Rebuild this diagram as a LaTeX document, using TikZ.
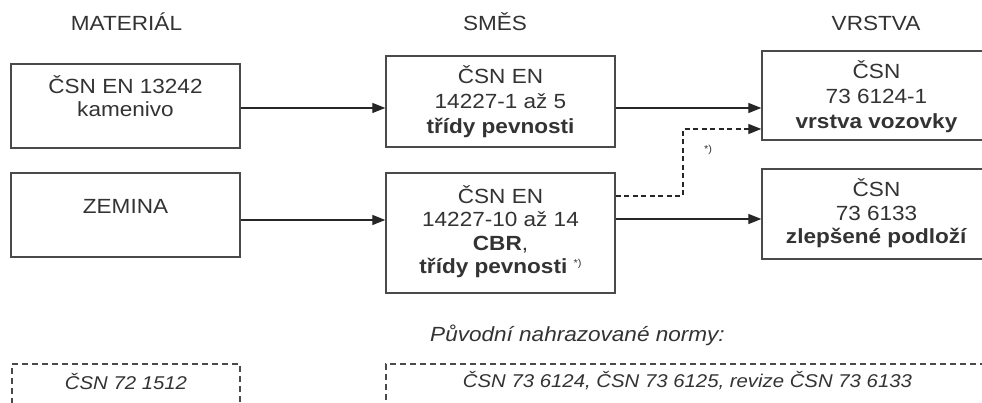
\documentclass[tikz,border=0pt]{standalone}
\usepackage{fontspec}
\setmainfont{Liberation Sans}[FakeStretch=1.1]
\usetikzlibrary{arrows.meta}
\definecolor{txt}{HTML}{333333}
\definecolor{ln}{HTML}{4A4A4A}
\newcommand\fl{\rule{0pt}{20pt}}
\begin{document}
\begin{tikzpicture}[x=1pt,y=-1pt,
  box/.style={draw=ln, line width=1.4pt, inner sep=0pt, minimum width=229pt, minimum height=#1},
  box/.default=84pt,
  dbox/.style={draw=ln, line width=1.4pt, dash pattern=on 6pt off 4pt, inner sep=0pt},
  tx/.style={anchor=north, inner sep=0pt, align=center, text=txt, font=\fontsize{20.5}{23.5}\selectfont},
  txw/.style={tx, font=\fontsize{20.5}{25}\selectfont},
  hd/.style={anchor=base, inner sep=0pt, text=txt, font=\fontsize{20.5}{22}\selectfont},
  itx/.style={anchor=base, inner sep=0pt, text=txt, font=\itshape\fontsize{18.5}{20}\selectfont},
  arr/.style={-{Triangle[length=13pt,width=10pt]}, line width=1.3pt, draw=black!85},
  darr/.style={arr, dash pattern=on 5pt off 3.5pt}]
\useasboundingbox (0,0) rectangle (982,403);
\fill[white] (0,0) rectangle (982,403);

% headers
\node[hd] (h1) at (126.5,31) {MATERIÁL};
\node[hd] (h2) at (495,31) {SMĚS};
\node[hd] (h3) at (876,31) {VRSTVA};

% boxes
\node[box=84pt] (A) at (125.5,106) {};
\node[box=91pt] (B) at (500.5,101.5) {};
\node[box=89pt] (C) at (876.5,95.5) {};
\node[box=84pt] (D) at (125.5,215) {};
\node[box=120pt] (E) at (500.5,233) {};
\node[box=90pt] (F) at (876.5,214) {};

% box texts
\node[tx] (tA) at (125.5,73.3) {\fl ČSN EN 13242\\kamenivo};
\node[txw] (tB) at (500.5,63) {\fl ČSN EN\\14227-1 až 5\\\textbf{třídy pevnosti}};
\node[txw] (tC) at (876.5,58) {\fl ČSN\\73 6124-1\\\textbf{vrstva vozovky}};
\node[hd] (tD) at (125.5,213.3) {ZEMINA};
\node[tx] (tE) at (500.5,183) {\fl ČSN EN\\14227-10 až 14\\\textbf{CBR},\\\textbf{třídy pevnosti} \raisebox{7pt}{\fontsize{10}{10}\selectfont *)}};
\node[tx] (tF) at (876.5,176.7) {\fl ČSN\\73 6133\\\textbf{zlepšené podloží}};

% connectors
\draw[arr] ([yshift=-2pt]A.east) -- ([yshift=-2pt]A.east -| B.west);
\draw[arr] ([yshift=-6.5pt]B.east) -- ([yshift=-6.5pt]B.east -| C.west);
\draw[arr] ([yshift=-5pt]D.east) -- ([yshift=-5pt]D.east -| E.west);
\draw[arr] ([yshift=14pt]E.east) -- ([yshift=14pt]E.east -| F.west);
\coordinate (k) at (683,129);
\draw[darr] ([yshift=37pt]E.east) -| (k) -- (k -| C.west);
\node[inner sep=0pt, text=txt, font=\fontsize{10}{10}\selectfont] (star) at (708,150) {*)};

% bottom
\node[anchor=base, inner sep=0pt, text=txt, font=\itshape\fontsize{20.5}{22}\selectfont] (orig) at (577.5,341.7) {Původní nahrazované normy:};
\node[dbox, minimum width=228pt, minimum height=60pt] (G) at (126,394) {};
\node[dbox, minimum width=620pt, minimum height=60pt] (H) at (696,394) {};
\node[itx] (tG) at (126,389) {ČSN 72 1512};
\node[itx] (tH) at (687.5,387.5) {ČSN 73 6124, ČSN 73 6125, revize ČSN 73 6133};
\end{tikzpicture}
\end{document}
